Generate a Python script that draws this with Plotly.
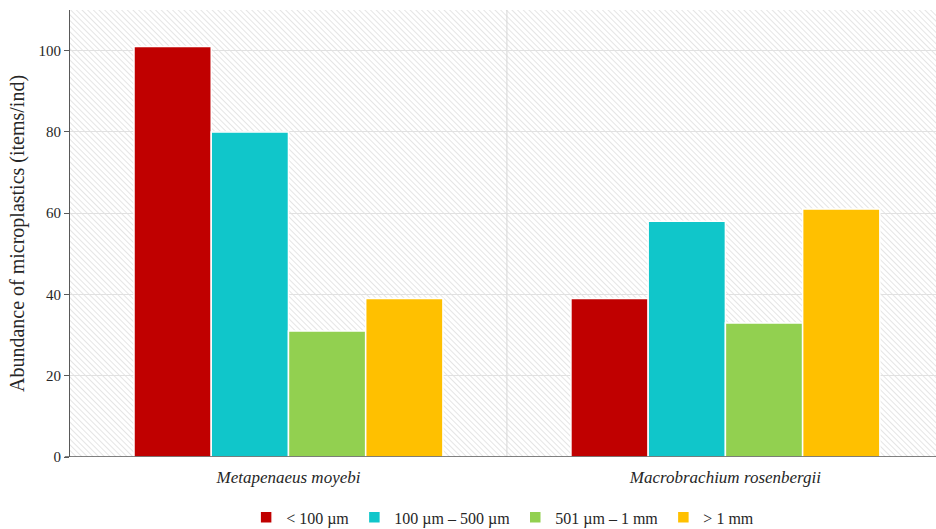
import base64
import plotly.graph_objects as go

# Species sampled and microplastic abundance by particle size class
species = ["Metapenaeus moyebi", "Macrobrachium rosenbergii"]
size_classes = ["< 100 µm", "100 µm – 500 µm", "501 µm – 1 mm", "> 1 mm"]
abundance = {
    "< 100 µm": [101, 39],
    "100 µm – 500 µm": [80, 58],
    "501 µm – 1 mm": [31, 33],
    "> 1 mm": [39, 61],
}
colors = ["#c00000", "#10c6ca", "#92d050", "#ffc000"]
y_ticks = [0, 20, 40, 60, 80, 100]

FONT = "Liberation Serif, Times New Roman, serif"

# Fine diagonal hatch used as the plot-area texture
W, H = 866, 447
hatch_svg = (
    f'<svg xmlns="http://www.w3.org/2000/svg" width="{W}" height="{H}" '
    f'viewBox="0 0 {W} {H}" preserveAspectRatio="none">'
    '<defs><pattern id="h" width="4" height="4" patternUnits="userSpaceOnUse" '
    'patternTransform="rotate(-45)">'
    '<rect width="4" height="4" fill="#ffffff"/>'
    '<line x1="0" y1="0" x2="0" y2="4" stroke="#dfdfdf" stroke-width="1.6"/>'
    '</pattern></defs>'
    f'<rect width="{W}" height="{H}" fill="url(#h)"/></svg>'
)
hatch_uri = "data:image/svg+xml;base64," + base64.b64encode(hatch_svg.encode()).decode()

x_pos = list(range(len(species)))

fig = go.Figure()
for name, col in zip(size_classes, colors):
    fig.add_trace(go.Bar(
        x=x_pos,
        y=abundance[name],
        name=name,
        marker=dict(color=col, line=dict(color="#ffffff", width=1.5)),
    ))

fig.update_layout(
    width=936,
    height=529,
    margin=dict(l=70, r=0, t=10, b=72, autoexpand=False),
    paper_bgcolor="#ffffff",
    plot_bgcolor="#ffffff",
    barmode="group",
    bargap=0.293,
    bargroupgap=0,
    font=dict(family=FONT, size=15, color="#262626"),
    showlegend=True,
    legend=dict(
        orientation="h",
        xref="container", yref="container",
        x=0.537, xanchor="center",
        y=0.022, yanchor="middle",
        font=dict(family=FONT, size=16, color="#262626"),
        itemwidth=30,
        traceorder="normal",
    ),
    xaxis=dict(
        range=[-0.5, 1.482],
        tickvals=x_pos,
        ticktext=[f"<i>{s}</i>" for s in species],
        showgrid=False,
        zeroline=False,
        showline=False,
        ticks="",
        ticklabelstandoff=8,
        tickfont=dict(family=FONT, size=17, color="#262626"),
    ),
    yaxis=dict(
        range=[0, 110],
        tickvals=y_ticks,
        showgrid=True,
        gridcolor="#e1e1e1",
        gridwidth=1,
        zeroline=False,
        showline=True,
        linecolor="#595959",
        linewidth=1.2,
        ticks="outside",
        ticklen=5,
        tickcolor="#595959",
        tickfont=dict(family=FONT, size=15, color="#262626"),
        title=dict(
            text="Abundance of microplastics (items/ind)",
            font=dict(family=FONT, size=20, color="#262626"),
            standoff=8,
        ),
    ),
    images=[dict(
        source=hatch_uri,
        xref="paper", yref="paper",
        x=0, y=1, sizex=1, sizey=1,
        xanchor="left", yanchor="top",
        sizing="stretch",
        layer="below",
    )],
    shapes=[
        # divider between the two species groups
        dict(type="line", xref="x", yref="paper", x0=0.5, x1=0.5, y0=0, y1=1,
             line=dict(color="#d6d6d6", width=1), layer="below"),
        # baseline axis, extending slightly left of the y axis
        dict(type="line", xref="paper", yref="y", x0=-0.006, x1=1, y0=0, y1=0,
             line=dict(color="#595959", width=1.5), layer="above"),
    ],
)

fig.write_html("out.html")
